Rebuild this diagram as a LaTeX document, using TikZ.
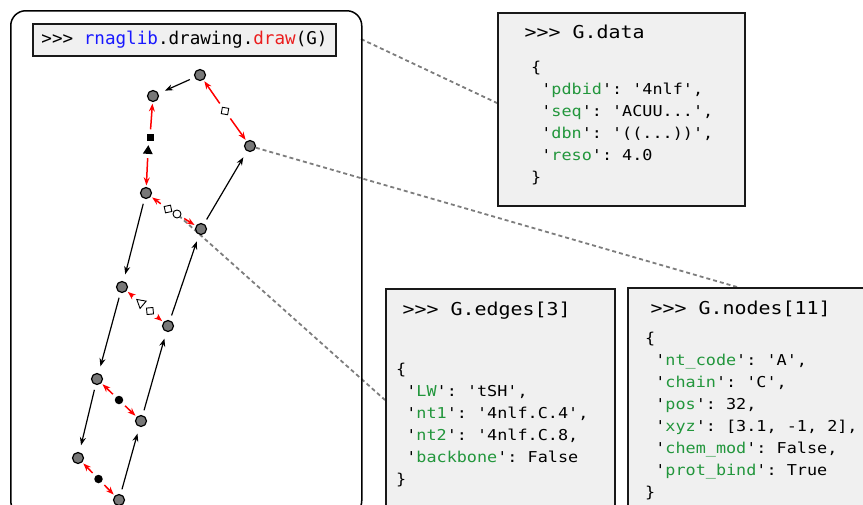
\documentclass[tikz,border=0pt]{standalone}
\usepackage{fontspec}
\setmonofont{DejaVu Sans Mono}
\usepackage{tikz}
\usetikzlibrary{arrows.meta,shapes.geometric}
\pgfdeclarelayer{bg}
\pgfsetlayers{bg,main}
\definecolor{keygreen}{RGB}{34,150,60}
\definecolor{fnblue}{RGB}{25,25,255}
\definecolor{fnred}{RGB}{235,30,30}
\definecolor{boxgray}{RGB}{240,240,240}
\definecolor{dashgray}{RGB}{125,125,125}
\definecolor{ntgray}{RGB}{120,120,120}
\newcommand\boxtt{\ttfamily\addfontfeatures{FakeStretch=1.12}}
\newcommand\dk[1]{'\textcolor{keygreen}{#1}'}
\tikzset{
    nt/.style={circle, draw, fill=ntgray, line width=1.2pt, minimum size=11pt, inner sep=0pt},
    bb/.style={-{Stealth[length=8pt,width=6pt]}, line width=1.2pt, shorten <=5pt, shorten >=7pt},
    bp/.style={-{Stealth[length=8pt,width=6pt]}, red, line width=1.5pt, shorten <=4pt, shorten >=1.5pt},
    wdiam/.style={diamond, draw, fill=white, line width=.9pt, inner sep=0pt, minimum size=9.5pt},
    bsq/.style={rectangle, fill=black, inner sep=0pt, minimum size=7pt},
    btri/.style={regular polygon, regular polygon sides=3, fill=black, inner sep=0pt, minimum size=11.5pt},
    wtri/.style={regular polygon, regular polygon sides=3, draw, fill=white, line width=.9pt, inner sep=0pt, minimum size=11pt},
    wcirc/.style={circle, draw, fill=white, line width=.9pt, inner sep=0pt, minimum size=8pt},
    bcirc/.style={circle, fill=black, inner sep=0pt, minimum size=8.5pt},
    box/.style={draw=black!90, fill=boxgray, line width=1.8pt, inner sep=0pt, anchor=north west},
    hdr/.style={anchor=base west, inner sep=0pt, font=\boxtt\fontsize{17.8}{22}\selectfont},
    dict/.style={anchor=base west, inner sep=0pt, font=\boxtt\fontsize{15}{22}\selectfont},
    link/.style={dashgray, line width=1.8pt, dash pattern=on 4pt off 3pt}
}

\begin{document}
\begin{tikzpicture}[x=1pt, y=-1pt]
        \useasboundingbox (0,0) rectangle (863,504);
        % left panel
        \node (panel) [draw, line width=1.5pt, rounded corners=15pt, anchor=north west,
            minimum width=351pt, minimum height=505pt, inner sep=0pt] at (10,10) {};
        \node (cmd) [box, anchor=center, line width=1.6pt, minimum width=303pt, minimum height=32pt,
            font=\ttfamily\fontsize{17.6}{20}\selectfont] at (184.5,40)
            {>>> \textcolor{fnblue}{rnaglib}.drawing.\textcolor{fnred}{draw}(G)};
        % nucleotides
        \node (v0) [nt] at (200,75) {};
        \node (v1) [nt] at (153,96) {};
        \node (v2) [nt] at (250,146) {};
        \node (v3) [nt] at (146,193) {};
        \node (v4) [nt] at (201,229) {};
        \node (v5) [nt] at (122,287) {};
        \node (v6) [nt] at (168,326) {};
        \node (v7) [nt] at (97,379) {};
        \node (v8) [nt] at (141,421) {};
        \node (v9) [nt] at (78,458) {};
        \node (v10) [nt] at (119,500) {};
        % base pair markers
        \node (m0) [wdiam, rotate=-55] at (225,111) {};
        \node (m1) [bsq] at (150,137) {};
        \node (m2) [btri, rotate=-4] at (148,151) {};
        \node (m3) [wdiam, rotate=-33] at (168,209) {};
        \node (m4) [wcirc] at (177,214) {};
        \node (m5) [wtri, rotate=50] at (141,303) {};
        \node (m6) [wdiam, rotate=-40] at (150,311) {};
        \node (m7) [bcirc] at (119,400) {};
        \node (m8) [bcirc] at (98.5,479) {};
        % boxes
        \node (datbox) [box, minimum width=247pt, minimum height=193pt] at (497,12) {};
        \node (edgbox) [box, minimum width=229pt, minimum height=240pt] at (385,288) {};
        \node (ndbox) [box, minimum width=260pt, minimum height=240pt] at (627,287) {};
        \node (dathdr) [hdr] at (524.5,38) {>>> G.data};
        \node (datdict) [dict] at (531,72) {\begin{tabular}[t]{@{}l@{}}
            \{\\
            \ \dk{pdbid}: '4nlf',\\
            \ \dk{seq}: 'ACUU...',\\
            \ \dk{dbn}: '((...))',\\
            \ \dk{reso}: 4.0\\
            \}
            \end{tabular}};
        \node (edghdr) [hdr] at (402.5,315) {>>> G.edges[3]};
        \node (edgdict) [dict] at (396,374) {\begin{tabular}[t]{@{}l@{}}
            \{\\
            \ \dk{LW}: 'tSH',\\
            \ \dk{nt1}: '4nlf.C.4',\\
            \ \dk{nt2}: '4nlf.C.8,\\
            \ \dk{backbone}: False\\
            \}
            \end{tabular}};
        \node (ndhdr) [hdr] at (650.5,314.5) {>>> G.nodes[11]};
        \node (nddict) [dict] at (645,343) {\begin{tabular}[t]{@{}l@{}}
            \{\\
            \ \dk{nt\_code}: 'A',\\
            \ \dk{chain}: 'C',\\
            \ \dk{pos}: 32,\\
            \ \dk{xyz}: [3.1, -1, 2],\\
            \ \dk{chem\_mod}: False,\\
            \ \dk{prot\_bind}: True\\
            \}
            \end{tabular}};
        \coordinate (p0) at (361,39);
        \coordinate (p1) at (497,103);
        \coordinate (p2) at (737,287);
        \coordinate (p3) at (173.5,211);
        \coordinate (p4) at (385,400);
        \begin{pgfonlayer}{bg}
                \draw (p0) edge [link] (p1);
                \draw (v2) edge [link] (p2);
                \draw (p3) edge [link] (p4);
                \draw (v0) edge [bb] (v1);
                \draw (v3) edge [bb] (v5);
                \draw (v5) edge [bb] (v7);
                \draw (v7) edge [bb] (v9);
                \draw (v10) edge [bb] (v8);
                \draw (v8) edge [bb] (v6);
                \draw (v6) edge [bb] (v4);
                \draw (v4) edge [bb] (v2);
                \draw (m0) edge [bp] (v0);
                \draw (m0) edge [bp] (v2);
                \draw (m1) edge [bp] (v1);
                \draw (m2) edge [bp] (v3);
                \draw (m3) edge [bp] (v3);
                \draw (m4) edge [bp] (v4);
                \draw (m5) edge [bp] (v5);
                \draw (m6) edge [bp] (v6);
                \draw (m7) edge [bp] (v7);
                \draw (m7) edge [bp] (v8);
                \draw (m8) edge [bp] (v9);
                \draw (m8) edge [bp] (v10);
        \end{pgfonlayer}
\end{tikzpicture}
\end{document}
